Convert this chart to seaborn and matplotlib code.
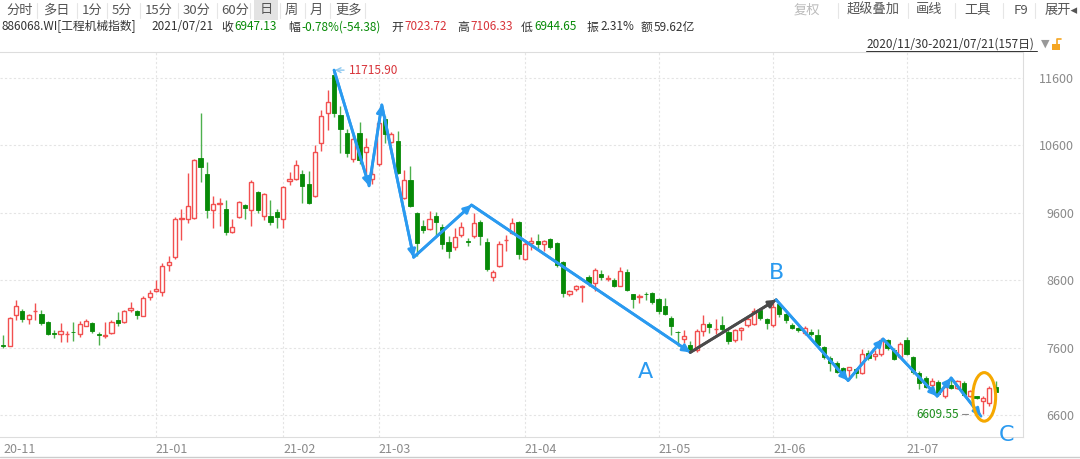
import matplotlib
matplotlib.use("Agg")
import matplotlib.pyplot as plt
from matplotlib.patches import Ellipse, Rectangle
from matplotlib.lines import Line2D
import seaborn as sns
import pandas as pd

# daily OHLC, 2020/11/30 - 2021/07/21 (157 trading days)
opens = [7644, 7630, 8088, 8138, 8024, 8143, 8103, 7985, 7812, 7807,
         7797, 7837, 7802, 7926, 7965, 7800, 7775, 7817, 8014, 7975,
         8152, 8148, 8074, 8350, 8440, 8419, 8830, 8950, 9505, 9515,
         9530, 10420, 10175, 9640, 9725, 9660, 9310, 9545, 9720, 9635,
         9910, 9560, 9560, 9615, 9505, 10065, 10100, 10175, 10025, 9850,
         10640, 11085, 11640, 11050, 10790, 10405, 10790, 10500, 10095, 10325,
         10995, 10655, 10670, 9815, 10085, 9595, 9400, 9365, 9550, 9385,
         9160, 9100, 9275, 9180, 9260, 9470, 9165, 8645, 8815, 9195,
         9300, 9460, 8915, 9150, 9175, 9140, 9210, 9150, 8865, 8400,
         8470, 8500, 8655, 8555, 8690, 8620, 8605, 8520, 8715, 8390,
         8355, 8400, 8410, 8320, 8215, 8040, 7835, 7730, 7635, 7560,
         7840, 7950, 7875, 7940, 7830, 7710, 7860, 7933, 7958, 8157,
         8023, 7933, 8242, 8093, 7943, 7894, 7817, 7827, 7792, 7610,
         7447, 7373, 7299, 7265, 7284, 7225, 7520, 7470, 7506, 7708,
         7570, 7462, 7708, 7462, 7225, 7151, 7043, 7092, 6880, 7053,
         7003, 7077, 6880, 6880, 6806, 6772, 7023.72]
highs = [7792, 8054, 8310, 8172, 8100, 8261, 8162, 8000, 7857, 7965,
         7842, 7980, 7990, 8024, 7980, 7827, 7975, 8005, 8128, 8162,
         8271, 8162, 8360, 8458, 8600, 8850, 8965, 9540, 9650, 10195,
         10400, 11085, 10360, 9845, 9820, 9795, 9515, 9770, 9735, 10090,
         9925, 9890, 9795, 9650, 9995, 10205, 10385, 10235, 10220, 10600,
         11120, 11420, 11715.90, 11180, 10850, 10750, 10950, 10710, 10310, 11000,
         11040, 10800, 10810, 10240, 10290, 9605, 9490, 9630, 9615, 9440,
         9250, 9370, 9460, 9225, 9600, 9490, 9225, 8750, 9185, 9270,
         9520, 9475, 9160, 9240, 9290, 9200, 9230, 9160, 8880, 8460,
         8535, 8530, 8680, 8780, 8745, 8680, 8630, 8795, 8765, 8400,
         8390, 8420, 8425, 8335, 8335, 8065, 7840, 7865, 7695, 7875,
         8090, 7975, 8025, 8065, 7875, 7880, 7910, 8083, 8192, 8192,
         8040, 8300, 8250, 8120, 7970, 7910, 7915, 7876, 7876, 7630,
         7470, 7400, 7320, 7320, 7295, 7580, 7570, 7560, 7743, 7728,
         7595, 7679, 7758, 7480, 7250, 7185, 7151, 7116, 7053, 7166,
         7121, 7102, 6979, 6890, 6880, 7030, 7106.33]
lows = [7595, 7620, 8014, 7975, 7950, 8014, 7935, 7792, 7743, 7679,
        7679, 7704, 7758, 7916, 7817, 7644, 7743, 7807, 7916, 7965,
        8123, 8024, 8065, 8300, 8430, 8360, 8740, 8910, 9190, 9450,
        9515, 10060, 9530, 9375, 9410, 9270, 9300, 9530, 9515, 9405,
        9600, 9500, 9415, 9370, 9375, 10010, 10090, 9750, 9735, 9840,
        10520, 10835, 11015, 10480, 10430, 10360, 10330, 10160, 10030, 10300,
        10640, 10640, 10180, 9800, 9690, 8960, 9300, 9340, 9250, 9060,
        8930, 9050, 9240, 9115, 9220, 9125, 8730, 8585, 8800, 9040,
        9280, 8910, 8900, 9050, 9050, 9040, 9070, 8800, 8350, 8370,
        8435, 8270, 8520, 8435, 8610, 8585, 8500, 8510, 8445, 8185,
        8265, 8300, 8250, 8100, 8090, 7790, 7620, 7670, 7545, 7530,
        7770, 7815, 7810, 7825, 7660, 7690, 7710, 7910, 7940, 8008,
        7884, 7910, 8060, 7970, 7870, 7835, 7792, 7780, 7620, 7432,
        7250, 7225, 7215, 7120, 7150, 7215, 7420, 7420, 7480, 7570,
        7410, 7447, 7497, 7215, 6989, 7003, 7018, 6880, 6855, 6987,
        6987, 6890, 6870, 6835, 6609.55, 6742, 6944.65]
closes = [7620, 8039, 8222, 8024, 8083, 8148, 7965, 7802, 7797, 7852,
          7802, 7827, 7955, 8000, 7842, 7792, 7782, 7980, 7965, 8148,
          8182, 8083, 8335, 8409, 8470, 8814, 8865, 9505, 9530, 9700,
          10390, 10285, 9640, 9725, 9750, 9315, 9395, 9755, 9675, 10055,
          9640, 9880, 9465, 9540, 9985, 10100, 10310, 10000, 9740, 10505,
          11035, 11245, 11075, 10850, 10480, 10690, 10380, 10570, 10175, 10925,
          10765, 10775, 10190, 10085, 9700, 9150, 9345, 9515, 9470, 9140,
          9040, 9240, 9385, 9170, 9455, 9250, 8765, 8715, 9135, 9200,
          9445, 8990, 9135, 9185, 9140, 9180, 9100, 8830, 8410, 8435,
          8520, 8520, 8555, 8755, 8655, 8630, 8520, 8730, 8460, 8320,
          8360, 8390, 8270, 8150, 8100, 7925, 7825, 7770, 7570, 7840,
          7955, 7905, 7880, 7875, 7695, 7860, 7885, 8023, 8142, 8033,
          7973, 8207, 8093, 8008, 7894, 7859, 7891, 7807, 7644, 7462,
          7373, 7235, 7225, 7309, 7230, 7511, 7440, 7500, 7718, 7595,
          7432, 7659, 7511, 7235, 7077, 7018, 7102, 6920, 7018, 7003,
          7111, 6905, 6954, 6855, 6855, 7001.51, 6947.13]

# month start positions (trading-day index) and their labels
tick_pos = [0, 24, 44, 59, 82, 103, 121, 142]
tick_labels = ['20-11', '21-01', '21-02', '21-03', '21-04', '21-05', '21-06', '21-07']
y_ticks = [6600, 7600, 8600, 9600, 10600, 11600]

# hand-drawn wave annotation (trading-day index, index level)
wave1_x = [52, 57.5, 59.5, 64.5, 73.6, 108]
wave1_y = [11716, 10000, 11200, 8940, 9716, 7530]
ab_x = [108, 121.5]
ab_y = [7530, 8310]
wave2_x = [121.5, 132.8, 138.3, 146.8, 149, 153.7]
wave2_y = [8310, 7112, 7729, 6880, 7151, 6583]

W, H = 1080, 459
RED = '#F25050'
GREEN = '#078A07'
GREEN_WICK = '#4DB04D'
BLUE = '#2A9AF0'

sns.set_style("white")
plt.rcParams['font.family'] = ['Noto Sans CJK SC', 'DejaVu Sans']

df = pd.DataFrame({'i': range(len(opens)), 'o': opens, 'h': highs, 'l': lows, 'c': closes})
up = df[df.c >= df.o]
dn = df[df.c < df.o]

fig = plt.figure(figsize=(W / 100, H / 100), dpi=100)
ax = fig.add_axes([0, 1 - 437 / H, 1023 / W, (437 - 52) / H])


def px(x, y):
    return x / W, 1 - y / H


# grid
for v in y_ticks:
    ax.axhline(v, color='#e4e4e4', lw=0.8, ls=(0, (2, 2)), zorder=0)
for p in tick_pos[1:]:
    ax.axvline(p, color='#e4e4e4', lw=0.8, ls=(0, (2, 2)), zorder=0)

# candles
ax.vlines(up.i, up.l, up.h, color=RED, lw=1, zorder=2)
ax.vlines(dn.i, dn.l, dn.h, color=GREEN_WICK, lw=1, zorder=2)
ax.bar(up.i, (up.c - up.o).clip(lower=8), bottom=up.o, width=0.66,
       facecolor='white', edgecolor=RED, lw=1, zorder=3)
ax.bar(dn.i, (dn.o - dn.c).clip(lower=8), bottom=dn.c, width=0.66,
       color=GREEN, edgecolor=GREEN, lw=0.6, zorder=3)

# wave lines with arrow heads
sns.lineplot(x=wave1_x, y=wave1_y, ax=ax, color=BLUE, lw=2, sort=False, estimator=None, zorder=5)
sns.lineplot(x=wave2_x, y=wave2_y, ax=ax, color=BLUE, lw=2, sort=False, estimator=None, zorder=5)
sns.lineplot(x=ab_x, y=ab_y, ax=ax, color='#4a4a4a', lw=2, sort=False, estimator=None, zorder=5)
for xs, ys, col in [(wave1_x, wave1_y, BLUE), (ab_x, ab_y, '#4a4a4a'), (wave2_x, wave2_y, BLUE)]:
    for k in range(1, len(xs)):
        ax.annotate('', xy=(xs[k], ys[k]), xytext=(xs[k - 1], ys[k - 1]),
                    arrowprops=dict(arrowstyle='-|>', color=col, lw=2, mutation_scale=11,
                                    shrinkA=0, shrinkB=0), zorder=6)

ax.text(101, 7245, 'A', color=BLUE, fontsize=16, ha='center', va='center', family='DejaVu Sans')
ax.text(121.5, 8710, 'B', color=BLUE, fontsize=16, ha='center', va='center', family='DejaVu Sans')
ax.text(157.7, 6312, 'C', color=BLUE, fontsize=16, ha='center', va='center', family='DejaVu Sans',
        clip_on=False)
ax.add_patch(Ellipse((154.2, 6870), width=3.6, height=720, fill=False, edgecolor='#F5A800', lw=2.2,
                     zorder=7))

# max / min labels
ax.annotate('11715.90', xy=(52.1, 11715.9), xytext=(54.3, 11715.9), color='#D8343A', fontsize=8.5,
            va='center', arrowprops=dict(arrowstyle='->', color='#8CC8F0', lw=1, shrinkA=1, shrinkB=0))
ax.text(150.3, 6609.55, '6609.55', ha='right', va='center', color='#1A8C1A', fontsize=8.5)
ax.plot([150.7, 151.7], [6609.55, 6609.55], color='#888', lw=0.8)

ax.set_xlim(-0.52, 160.3)
ax.set_ylim(6275, 11985)
ax.set_xticks(tick_pos, tick_labels)
ax.set_yticks(y_ticks, [str(v) for v in y_ticks])
ax.tick_params(axis='x', length=0, pad=4, labelcolor='#8a8a8a', labelsize=9)
ax.tick_params(axis='y', left=False, labelleft=False, right=True, labelright=True, length=0,
               pad=37, labelcolor='#8a8a8a', labelsize=9)
for t in ax.get_xticklabels():
    t.set_ha('left')
for t in ax.get_yticklabels():
    t.set_ha('right')
for s in ['top', 'right', 'bottom']:
    ax.spines[s].set_color('#dddddd')
    ax.spines[s].set_linewidth(0.8)
ax.spines['left'].set_visible(False)
ax.set_xlabel('')
ax.set_ylabel('')

# header: toolbar
tabs = [('分时', 6), ('多日', 43), ('1分', 82), ('5分', 112), ('15分', 145), ('30分', 183),
        ('60分', 221), ('日', 260), ('周', 285), ('月', 310), ('更多', 335)]
fig.patches.append(Rectangle(px(254, 20), 24 / W, 20 / H, transform=fig.transFigure,
                             facecolor='#e3e3e3', edgecolor='none', zorder=0))
for name, x in tabs:
    fig.text(*px(x, 10), name, fontsize=9.5, color='#555555', va='center')
for x in [37, 77, 107, 140, 178, 217, 250, 280, 305, 330, 365]:
    fig.add_artist(Line2D([x / W, x / W], [1 - 3 / H, 1 - 18 / H], color='#e6e6e6', lw=0.8))
right_tabs = [('复权', 794, '#bbbbbb'), ('超级叠加', 847, '#555555'), ('画线', 916, '#555555'),
              ('工具', 964, '#555555'), ('F9', 1014, '#555555'), ('展开◂', 1045, '#555555')]
for name, x, col in right_tabs:
    fig.text(*px(x, 10), name, fontsize=9.5, color=col, va='center')
for x in [838, 908, 955, 1003, 1035]:
    fig.add_artist(Line2D([x / W, x / W], [1 - 3 / H, 1 - 18 / H], color='#e6e6e6', lw=0.8))

# header: quote line
quote = [('886068.WI[工程机械指数]', 2, '#333333'), ('2021/07/21', 151, '#333333'),
         ('收', 221, '#333333'), ('6947.13', 234, GREEN),
         ('幅', 288, '#333333'), ('-0.78%(-54.38)', 301, GREEN),
         ('开', 391, '#333333'), ('7023.72', 404, '#D8343A'),
         ('高', 457, '#333333'), ('7106.33', 470, '#D8343A'),
         ('低', 521, '#333333'), ('6944.65', 534, GREEN),
         ('振', 587, '#333333'), ('2.31%', 600, '#333333'),
         ('额', 641, '#333333'), ('59.62亿', 654, '#333333')]
for s, x, col in quote:
    fig.text(*px(x, 27), s, fontsize=8.5, color=col, va='center')

fig.text(*px(866, 44), '2020/11/30-2021/07/21(157日)', fontsize=8.5, color='#333333', va='center')
fig.add_artist(Line2D([866 / W, 1037 / W], [1 - 51 / H, 1 - 51 / H], color='#333333', lw=0.7))
fig.text(*px(1041, 44), '▼', fontsize=8, color='#999999', va='center', family='DejaVu Sans')
fig.patches.append(Rectangle(px(1052, 50), 8 / W, 6 / H, transform=fig.transFigure,
                             facecolor='#F5A623', edgecolor='none'))
fig.add_artist(Line2D([1057 / W, 1057 / W, 1061 / W], [1 - 44 / H, 1 - 39 / H, 1 - 39 / H],
                      color='#F5A623', lw=1.2))
fig.add_artist(Line2D([0, 1], [1 - 457 / H, 1 - 457 / H], color='#cccccc', lw=1))

fig.savefig('out.png', dpi=100)
